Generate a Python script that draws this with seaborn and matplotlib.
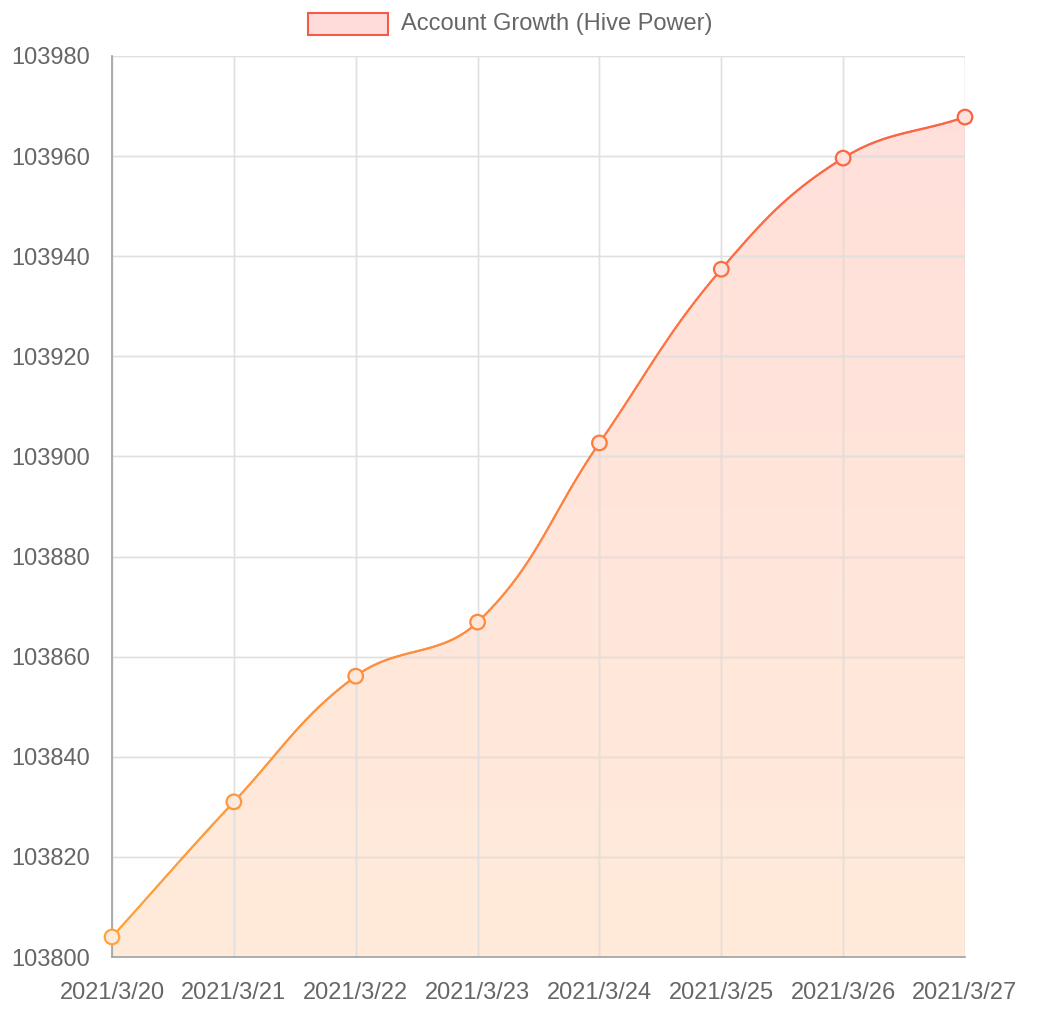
import numpy as np
import pandas as pd
import matplotlib
matplotlib.use("Agg")
import matplotlib.pyplot as plt
import seaborn as sns
from matplotlib.collections import LineCollection
from matplotlib.patches import Rectangle, PathPatch
from matplotlib.path import Path
from matplotlib.colors import LinearSegmentedColormap

dates = ["2021/3/20", "2021/3/21", "2021/3/22", "2021/3/23",
         "2021/3/24", "2021/3/25", "2021/3/26", "2021/3/27"]
hive_power = [103804.0, 103831.0, 103856.1, 103866.9,
              103902.7, 103937.4, 103959.6, 103967.8]
y_ticks = [103800, 103820, 103840, 103860, 103880, 103900, 103920, 103940, 103960, 103980]
series_label = "Account Growth (Hive Power)"

df = pd.DataFrame({"date": dates, "hp": hive_power, "idx": range(len(dates))})

sns.set_theme(style="white")
plt.rcParams['font.family'] = ['Liberation Sans', 'DejaVu Sans']

W, H = 1046, 1014
fig = plt.figure(figsize=(W / 100, H / 100), dpi=100)
L, R, T, B = 112, 965, 56, 957
ax = fig.add_axes([L / W, 1 - B / H, (R - L) / W, (B - T) / H])

ymin, ymax = 103800, 103980
n = len(dates)
ax.set_xlim(0, n - 1)
ax.set_ylim(ymin, ymax)

sx = (R - L) / (n - 1)
sy = (B - T) / (ymax - ymin)

# chart.js style bezier (tension 0.4), computed in pixel space
px = np.array(df["idx"], dtype=float) * sx
py = (np.array(df["hp"]) - ymin) * sy
tension = 0.4
cps = []
for i in range(n):
    p0 = np.array([px[max(i - 1, 0)], py[max(i - 1, 0)]])
    p1 = np.array([px[i], py[i]])
    p2 = np.array([px[min(i + 1, n - 1)], py[min(i + 1, n - 1)]])
    d01 = np.hypot(*(p1 - p0)); d12 = np.hypot(*(p2 - p1))
    tot = d01 + d12 if d01 + d12 > 0 else 1
    s01 = d01 / tot; s12 = d12 / tot
    fa = tension * s01; fb = tension * s12
    prev_cp = p1 - fa * (p2 - p0)
    next_cp = p1 + fb * (p2 - p0)
    cps.append((prev_cp, next_cp))

curve = []
for i in range(n - 1):
    P0 = np.array([px[i], py[i]]); P3 = np.array([px[i + 1], py[i + 1]])
    P1 = cps[i][1]; P2 = cps[i + 1][0]
    t = np.linspace(0, 1, 60)[:, None]
    seg = (1 - t) ** 3 * P0 + 3 * (1 - t) ** 2 * t * P1 + 3 * (1 - t) * t ** 2 * P2 + t ** 3 * P3
    curve.append(seg if i == 0 else seg[1:])
curve = np.vstack(curve)
cx = curve[:, 0] / sx
cy = curve[:, 1] / sy + ymin

grid_c = "#e0e0e0"
# grid
for yt in y_ticks:
    ax.axhline(yt, color=grid_c, lw=1, zorder=1)
for i in range(n):
    ax.axvline(i, color=grid_c, lw=1, zorder=1)

# gradient fill
fill_cmap = LinearSegmentedColormap.from_list("fill", ["#ffebda", "#ffdfdb"])
grad = np.linspace(0, 1, 256)[:, None]
im = ax.imshow(grad, aspect="auto", cmap=fill_cmap, origin="lower",
               extent=[0, n - 1, ymin, ymax], zorder=0.5)
verts = np.vstack([[cx[0], ymin], np.column_stack([cx, cy]), [cx[-1], ymin]])
clip = PathPatch(Path(verts), transform=ax.transData, facecolor="none", edgecolor="none")
ax.add_patch(clip)
im.set_clip_path(clip)

# grid visible through fill
for yt in y_ticks:
    ax.axhline(yt, color="#000000", lw=1, alpha=0.09, zorder=0.6)
for i in range(n):
    ax.axvline(i, color="#000000", lw=1, alpha=0.09, zorder=0.6)

# gradient line
line_cmap = LinearSegmentedColormap.from_list("line", ["#ffa43c", "#fa5f45"])
pts = np.column_stack([cx, cy])
segs = np.stack([pts[:-1], pts[1:]], axis=1)
cvals = ((cy[:-1] + cy[1:]) / 2 - ymin) / (ymax - ymin)
lc = LineCollection(segs, colors=line_cmap(cvals), linewidth=1.6, zorder=3, capstyle="round")
ax.add_collection(lc)

# markers via seaborn
mvals = (df["hp"] - ymin) / (ymax - ymin)
edge_cols = [line_cmap(v) for v in mvals]
face_cols = [fill_cmap(v) for v in mvals]
sns.scatterplot(data=df, x="idx", y="hp", ax=ax, s=110, marker="o",
                facecolor=face_cols, edgecolor=edge_cols, linewidth=1.6, zorder=4,
                legend=False, clip_on=False)

ax.set_xticks(range(n))
ax.set_xticklabels(dates)
ax.set_yticks(y_ticks)
ax.set_yticklabels([str(v) for v in y_ticks])
ax.set_xlabel("")
ax.set_ylabel("")
ax.tick_params(axis="both", which="both", length=14.4, width=1, color="#d8d8d8",
               labelsize=17, labelcolor="#666666")
ax.tick_params(axis="x", pad=3.8)
ax.tick_params(axis="y", pad=1.5)
for s in ["top", "right"]:
    ax.spines[s].set_visible(False)
for s in ["left", "bottom"]:
    ax.spines[s].set_color("#a0a0a0")
    ax.spines[s].set_linewidth(1.2)
    ax.spines[s].set_zorder(2)

# legend
fig.patches.append(Rectangle((308 / W, 1 - 35 / H), 80 / W, 22 / H,
                             transform=fig.transFigure, facecolor="#ffdcda",
                             edgecolor="#f85a48", linewidth=1.5))
fig.text(401 / W, 1 - 24 / H, series_label, fontsize=17, color="#666666",
         va="center", ha="left")

fig.savefig("out.png", dpi=100)
